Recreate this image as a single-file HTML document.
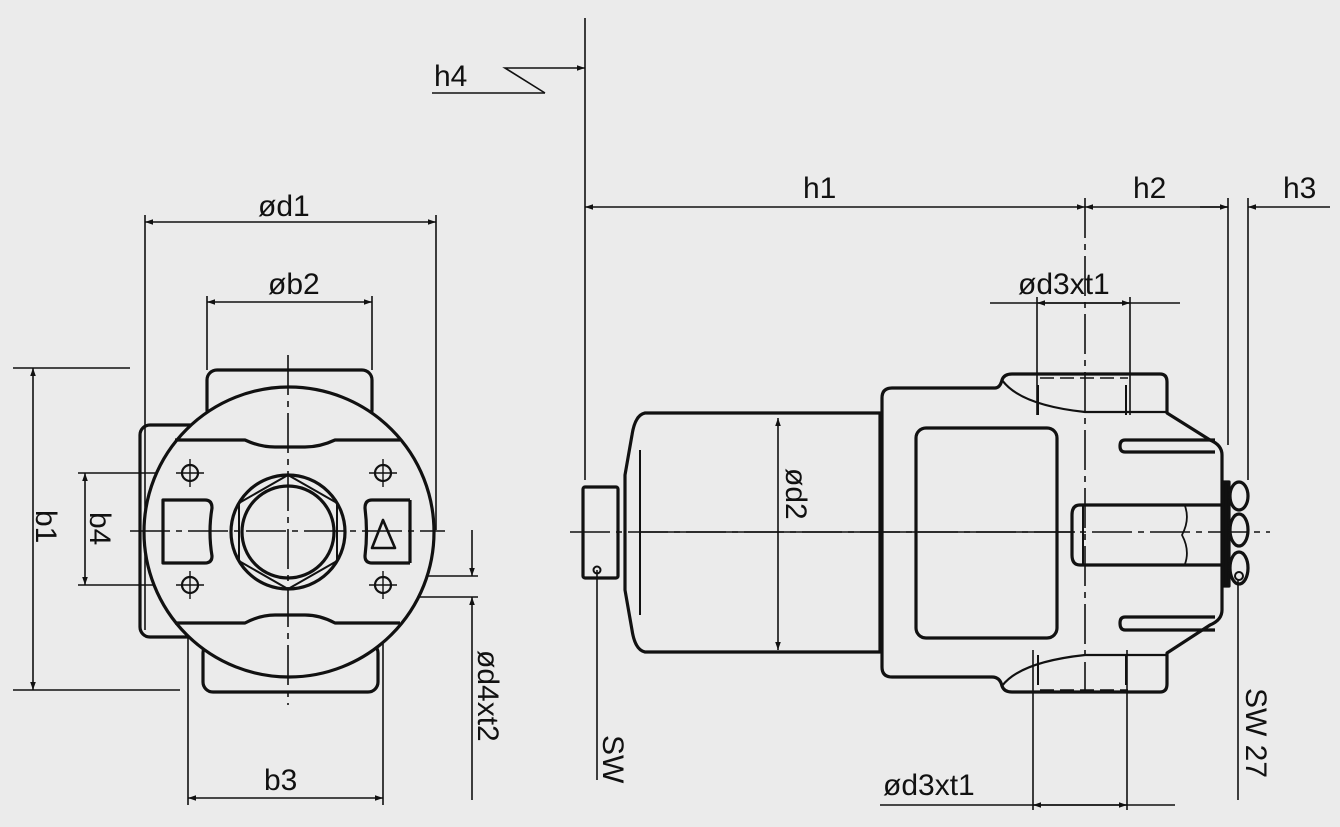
<!DOCTYPE html>
<html><head><meta charset="utf-8"><style>
html,body{margin:0;padding:0;background:#ebebeb;}
svg{display:block}
text{font-family:"Liberation Sans",sans-serif;font-size:30px;fill:#111;}
</style></head><body>
<svg width="1340" height="827" viewBox="0 0 1340 827" xmlns="http://www.w3.org/2000/svg">
<defs>
<marker id="a" viewBox="0 0 10 10" refX="10" refY="5" markerWidth="14" markerHeight="8" orient="auto-start-reverse" markerUnits="userSpaceOnUse"><path d="M0,1.5 L10,5 L0,8.5z" fill="#111"/></marker>
</defs>
<rect width="1340" height="827" fill="#ebebeb"/>
<g fill="none" stroke="#111" stroke-width="1.6">
<line x1="145" y1="215" x2="145" y2="630"/>
<line x1="436" y1="215" x2="436" y2="530"/>
<line x1="145" y1="222" x2="436" y2="222" marker-start="url(#a)" marker-end="url(#a)"/>
<line x1="207" y1="296" x2="207" y2="370"/>
<line x1="372" y1="296" x2="372" y2="370"/>
<line x1="207" y1="302" x2="372" y2="302" marker-start="url(#a)" marker-end="url(#a)"/>
<line x1="13" y1="368" x2="130" y2="368"/>
<line x1="13" y1="690" x2="180" y2="690"/>
<line x1="33" y1="368" x2="33" y2="690" marker-start="url(#a)" marker-end="url(#a)"/>
<line x1="78" y1="473" x2="180" y2="473"/>
<line x1="78" y1="585" x2="180" y2="585"/>
<line x1="85" y1="473" x2="85" y2="585" marker-start="url(#a)" marker-end="url(#a)"/>
<line x1="188" y1="590" x2="188" y2="805"/>
<line x1="383" y1="595" x2="383" y2="805"/>
<line x1="188" y1="798" x2="383" y2="798" marker-start="url(#a)" marker-end="url(#a)"/>
<line x1="395" y1="576" x2="478" y2="576"/>
<line x1="395" y1="597" x2="478" y2="597"/>
<line x1="472" y1="530" x2="472" y2="576" marker-end="url(#a)"/>
<line x1="472" y1="800" x2="472" y2="597" marker-end="url(#a)"/>
</g>
<g fill="none" stroke="#111" stroke-width="3.2" stroke-linejoin="round">
<rect x="140" y="425" width="60" height="212" rx="10"/>
<rect x="207" y="370" width="165" height="50" rx="10" fill="#ebebeb"/>
<rect x="203" y="643" width="175" height="49" rx="10" fill="#ebebeb"/>
<circle cx="289" cy="532" r="145" fill="#ebebeb"/>
<path d="M175 440 L245 440 Q260 447 275 447 L305 447 Q320 447 335 440 L400 440"/>
<path d="M175 623 L245 623 Q260 615 275 615 L305 615 Q320 615 335 623 L400 623"/>
<path d="M163 500 H205 Q212 500 212 508 Q208 532 212 556 Q212 563 205 563 H163 Z"/>
<path d="M410 500 H372 Q365 500 365 508 Q368 532 365 556 Q365 563 372 563 H410"/>
<line x1="410" y1="500" x2="410" y2="563"/>
<path d="M372 548 L383 520 L395 548 Z" stroke-width="2.6"/>
<circle cx="288" cy="532" r="57"/>
<circle cx="288" cy="532" r="46"/>
<path d="M288 475 L337 503 L337 561 L288 589 L239 561 L239 503 Z" stroke-width="2"/>
</g>
<g fill="none" stroke="#111" stroke-width="1.6">
<line x1="130" y1="531" x2="445" y2="531" stroke-dasharray="40 6 6 6"/>
<line x1="288" y1="355" x2="288" y2="705" stroke-dasharray="40 6 6 6"/>
</g>
<g fill="none" stroke="#111" stroke-width="2.2">
<circle cx="190" cy="473" r="8"/><circle cx="383" cy="473" r="8"/>
<circle cx="190" cy="585" r="8"/><circle cx="383" cy="585" r="8"/>
<path d="M176 473H204M190 459V487M369 473H397M383 459V487M176 585H204M190 571V599M369 585H397M383 571V599" stroke-width="1.4"/>
</g>
<text x="258" y="216">ød1</text>
<text x="268" y="294">øb2</text>
<text x="264" y="790">b3</text>
<text transform="translate(36,510) rotate(90)">b1</text>
<text transform="translate(90,512) rotate(90)">b4</text>
<text transform="translate(478,650) rotate(90)">ød4xt2</text>

<g fill="none" stroke="#111" stroke-width="1.6">
<line x1="585" y1="18" x2="585" y2="480"/>
<line x1="432" y1="93" x2="545" y2="93"/>
<polyline points="545,93 505,68 585,68" marker-end="url(#a)"/>
<line x1="585" y1="207" x2="1085" y2="207" marker-start="url(#a)" marker-end="url(#a)"/>
<line x1="1085" y1="207" x2="1228" y2="207" marker-start="url(#a)" marker-end="url(#a)"/>
<line x1="1330" y1="207" x2="1248" y2="207" marker-end="url(#a)"/>
<line x1="1200" y1="207" x2="1228" y2="207"/>
<line x1="1228" y1="198" x2="1228" y2="445"/>
<line x1="1248" y1="198" x2="1248" y2="480"/>
<line x1="1085" y1="198" x2="1085" y2="690" stroke-dasharray="40 6 6 6"/>
<line x1="990" y1="303" x2="1180" y2="303"/>
<line x1="1037" y1="303" x2="1130" y2="303" marker-start="url(#a)" marker-end="url(#a)"/>
<line x1="1037" y1="297" x2="1037" y2="415"/>
<line x1="1130" y1="297" x2="1130" y2="415"/>
<line x1="880" y1="805" x2="1175" y2="805"/>
<line x1="1033" y1="805" x2="1127" y2="805" marker-start="url(#a)" marker-end="url(#a)"/>
<line x1="1033" y1="650" x2="1033" y2="810"/>
<line x1="1127" y1="650" x2="1127" y2="810"/>
<line x1="778" y1="418" x2="778" y2="650" marker-start="url(#a)" marker-end="url(#a)"/>
<line x1="597" y1="570" x2="597" y2="780"/>
<line x1="1238" y1="580" x2="1238" y2="800"/>
<line x1="570" y1="532" x2="1270" y2="532" stroke-dasharray="40 6 6 6"/>
<line x1="640" y1="532" x2="1075" y2="532"/>
<path d="M1040 378H1128M1040 690H1128" stroke-dasharray="14 6"/>
</g>
<g fill="none" stroke="#111" stroke-width="3.2" stroke-linejoin="round">
<rect x="583" y="487" width="35" height="91" rx="2"/>
<path d="M645 413 H880 V652 H645 Q635 650 632 630 L625 590 V475 L632 435 Q635 415 645 413 Z"/>
<line x1="640" y1="450" x2="640" y2="615" stroke-width="2"/>
<path d="M882 398 Q882 388 892 388 H995 Q1000 388 1002 380 Q1004 374 1012 374 H1160 Q1167 374 1167 382 V413 L1210 440 Q1222 445 1222 455 V610 Q1222 620 1210 625 L1167 653 V684 Q1167 692 1160 692 H1012 Q1004 692 1002 686 Q1000 677 992 677 H892 Q882 677 882 667 Z"/>
<path d="M1002 380 Q1020 405 1085 412 H1167" stroke-width="2.2"/>
<path d="M1002 686 Q1020 662 1085 655 H1167" stroke-width="2.2"/>
<rect x="916" y="428" width="141" height="210" rx="10"/>
<path d="M1215 440 H1125 Q1120 440 1120 446 Q1120 452 1125 452 H1215"/>
<path d="M1215 617 H1125 Q1120 617 1120 623 Q1120 630 1125 630 H1215"/>
<path d="M1222 505 H1080 Q1072 505 1072 515 V555 Q1072 565 1080 565 H1222"/>
<line x1="1083" y1="506" x2="1083" y2="564" stroke-width="2"/>
<path d="M1185 506 Q1190 520 1182 535 Q1190 550 1185 564" stroke-width="1.8"/>
<rect x="1223" y="482" width="6" height="104" fill="#111"/>
<ellipse cx="1239" cy="496" rx="9" ry="14"/>
<ellipse cx="1239" cy="530" rx="9" ry="16"/>
<ellipse cx="1239" cy="568" rx="9" ry="16"/>
<line x1="1038" y1="385" x2="1038" y2="415" stroke-width="2"/>
<line x1="1126" y1="385" x2="1126" y2="415" stroke-width="2"/>
<line x1="1038" y1="655" x2="1038" y2="685" stroke-width="2"/>
<line x1="1126" y1="655" x2="1126" y2="685" stroke-width="2"/>
</g>
<circle cx="597" cy="570" r="3.5" fill="none" stroke="#111" stroke-width="2"/>
<circle cx="1239" cy="576" r="4" fill="none" stroke="#111" stroke-width="2"/>
<text x="434" y="86">h4</text>
<text x="803" y="198">h1</text>
<text x="1133" y="198">h2</text>
<text x="1283" y="198">h3</text>
<text x="1018" y="294">ød3xt1</text>
<text x="883" y="795">ød3xt1</text>
<text transform="translate(786,468) rotate(90)">ød2</text>
<text transform="translate(603,735) rotate(90)">SW</text>
<text transform="translate(1246,688) rotate(90)">SW 27</text>
</svg>
</body></html>
